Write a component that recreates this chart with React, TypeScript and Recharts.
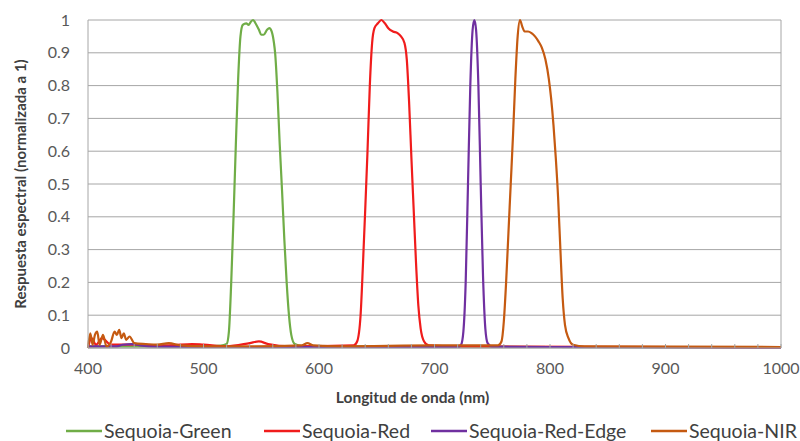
import { CartesianGrid, Legend, Line, LineChart, ReferenceLine, XAxis, YAxis } from "recharts";

const FONT = 'Lato, "Open Sans", sans-serif';

const xMajorTicks = [400, 500, 600, 700, 800, 900, 1000];
const xMinorTicks = [
  400, 420, 440, 460, 480, 500, 520, 540, 560, 580, 600, 620, 640, 660, 680, 700, 720, 740, 760, 780, 800, 820, 840,
  860, 880, 900, 920, 940, 960, 980, 1000,
];
const yTicks = [0, 0.1, 0.2, 0.3, 0.4, 0.5, 0.6, 0.7, 0.8, 0.9, 1];

const seriesNames = ["Sequoia-Green", "Sequoia-Red", "Sequoia-Red-Edge", "Sequoia-NIR"];
const seriesColors = ["#70ad47", "#f01c1c", "#7030a0", "#c55a11"];
const legendLeft = [66, 264, 431, 651];

// Sequoia-Green
const greenWl = [
  400, 450, 500, 515, 520, 522, 524, 526, 528, 530, 532, 534, 537, 539, 541, 543, 545, 548, 550, 552, 555, 557, 559,
  561, 562, 564, 566, 568, 570, 572, 574, 576, 579, 585, 620, 700, 800, 1000,
];
const greenVal = [
  0.005, 0.005, 0.005, 0.007, 0.012, 0.05, 0.2, 0.4, 0.62, 0.82, 0.95, 0.985, 0.99, 0.985, 0.995, 1.0, 0.99, 0.97,
  0.955, 0.955, 0.97, 0.975, 0.965, 0.93, 0.9, 0.78, 0.62, 0.48, 0.33, 0.2, 0.1, 0.04, 0.012, 0.006, 0.005, 0.005,
  0.003, 0.002,
];

// Sequoia-Red
const redWl = [
  400, 403, 407, 412, 420, 440, 470, 490, 500, 520, 540, 548, 556, 575, 630, 633, 636, 638, 640, 642, 644, 646, 648,
  651, 654, 657, 660, 664, 668, 671, 674, 676, 678, 680, 682, 684, 686, 688, 691, 695, 720, 1000,
];
const redVal = [
  0.0, 0.03, 0.01, 0.03, 0.01, 0.01, 0.008, 0.012, 0.01, 0.005, 0.015, 0.02, 0.012, 0.005, 0.008, 0.02, 0.1, 0.25,
  0.42, 0.6, 0.8, 0.93, 0.975, 0.99, 1.0, 0.99, 0.975, 0.965, 0.96, 0.95, 0.93, 0.88, 0.75, 0.58, 0.42, 0.26, 0.13,
  0.06, 0.02, 0.008, 0.005, 0.002,
];

// Sequoia-Red-Edge
const edgeWl = [
  400, 425, 430, 438, 445, 460, 500, 720, 723, 725, 727, 729, 731, 733, 734.5, 736, 738, 740, 742, 744, 746, 750, 800,
  1000,
];
const edgeVal = [
  0.005, 0.005, 0.01, 0.012, 0.008, 0.004, 0.003, 0.003, 0.01, 0.05, 0.2, 0.5, 0.8, 0.97, 1.0, 0.97, 0.8, 0.5, 0.22,
  0.06, 0.015, 0.004, 0.003, 0.002,
];

// Sequoia-NIR
const nirWl = [
  400, 402, 404, 406, 408, 410, 413, 416, 420, 423, 425, 427, 429, 431, 433, 436, 440, 450, 460, 470, 480, 500, 540,
  585, 590, 595, 620, 700, 755, 758, 760, 762, 764, 766, 768, 770, 772, 774, 776, 778, 781, 784, 787, 790, 793, 796,
  799, 801, 803, 805, 807, 809, 811, 813, 816, 820, 830, 1000,
];
const nirVal = [
  0.0, 0.045, 0.01, 0.04, 0.05, 0.01, 0.04, 0.005, 0.02, 0.05, 0.04, 0.055, 0.03, 0.045, 0.025, 0.035, 0.015, 0.012,
  0.01, 0.015, 0.008, 0.005, 0.005, 0.008, 0.015, 0.008, 0.005, 0.008, 0.008, 0.02, 0.08, 0.2, 0.35, 0.5, 0.65, 0.82,
  0.95, 1.0, 0.98, 0.965, 0.965, 0.96, 0.95, 0.935, 0.915, 0.88, 0.82, 0.76, 0.68, 0.58, 0.46, 0.3, 0.15, 0.07, 0.03,
  0.01, 0.005, 0.003,
];

const zip = (wl: number[], val: number[]) => wl.map((w, i) => ({ wl: w, v: val[i] }));

const seriesData = [zip(greenWl, greenVal), zip(redWl, redVal), zip(edgeWl, edgeVal), zip(nirWl, nirVal)];

function XTick(props: any) {
  const { x, y, payload } = props;
  const major = xMajorTicks.includes(payload.value);
  return (
    <g>
      <line x1={x} x2={x} y1={y - 4} y2={y} stroke="#a6a6a6" strokeWidth={1} />
      {major && (
        <text x={x} y={y + 20} dy="0.355em" textAnchor="middle" fill="#595959" fontSize={16} fontFamily={FONT}>
          {payload.value}
        </text>
      )}
    </g>
  );
}

function LegendBox() {
  return (
    <div style={{ position: "relative", height: 18, fontFamily: FONT, fontSize: 19.5, lineHeight: "18px", color: "#404040" }}>
      {seriesNames.map((name, i) => (
        <div
          key={name}
          style={{ position: "absolute", left: legendLeft[i], top: 0, height: 18, display: "flex", alignItems: "center", whiteSpace: "nowrap" }}
        >
          <svg width={36} height={4} style={{ marginRight: 2 }}>
            <line x1={0} x2={36} y1={2} y2={2} stroke={seriesColors[i]} strokeWidth={2.5} />
          </svg>
          <span>{name}</span>
        </div>
      ))}
    </div>
  );
}

export default function App() {
  return (
    <div style={{ position: "absolute", left: 0, top: 0, width: 800, height: 441, background: "#fff" }}>
      <LineChart width={800} height={441} margin={{ top: 20, right: 19, left: 0, bottom: 33 }}>
        <CartesianGrid vertical={false} stroke="#a6a6a6" />
        <XAxis
          type="number"
          dataKey="wl"
          domain={[400, 1000]}
          ticks={xMinorTicks}
          interval={0}
          height={60}
          tickSize={0}
          tickMargin={0}
          tickLine={false}
          tick={<XTick />}
          axisLine={{ stroke: "#a6a6a6" }}
          label={{
            value: "Longitud de onda (nm)",
            position: "insideBottom",
            offset: 5,
            dx: -22,
            style: { fontFamily: FONT, fontWeight: 700, fontSize: 15.5, fill: "#404040" },
          }}
        />
        <YAxis
          type="number"
          domain={[0, 1]}
          ticks={yTicks}
          width={88}
          tickSize={0}
          tickMargin={18}
          tickLine={false}
          axisLine={{ stroke: "#a6a6a6" }}
          tick={{ fill: "#595959", fontSize: 16, fontFamily: FONT }}
          label={{
            value: "Respuesta espectral (normalizada a 1)",
            angle: -90,
            position: "insideLeft",
            offset: 21,
            textAnchor: "middle",
            style: { fontFamily: FONT, fontWeight: 700, fontSize: 15, fill: "#404040" },
          }}
        />
        <ReferenceLine x={1000} stroke="#a6a6a6" />
        {seriesNames.map((name, i) => (
          <Line
            key={name}
            data={seriesData[i]}
            dataKey="v"
            name={name}
            type="monotone"
            stroke={seriesColors[i]}
            strokeWidth={2.2}
            dot={false}
            isAnimationActive={false}
          />
        ))}
        <Legend
          layout="horizontal"
          verticalAlign="middle"
          align="center"
          content={<LegendBox />}
          wrapperStyle={{ top: 422, left: 0, width: 800, height: 18 }}
        />
      </LineChart>
    </div>
  );
}
